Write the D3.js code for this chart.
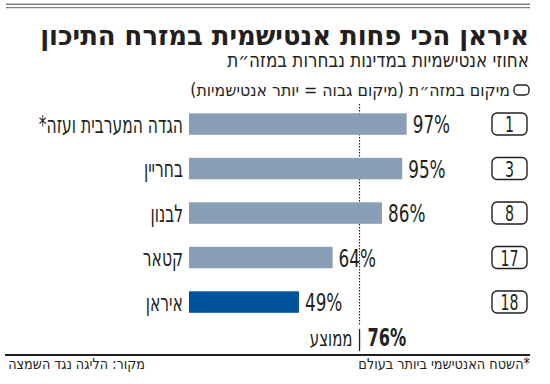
<!DOCTYPE html>
<html>
<head>
<meta charset="utf-8">
<script src="https://cdn.jsdelivr.net/npm/d3@7"></script>
<style>
  body { margin: 0; background: #fff; }
  text { font-family: 'DejaVu Sans Condensed', 'DejaVu Sans', sans-serif; fill: #231f20; }
  text.he { direction: rtl; }
</style>
</head>
<body>
<svg id="chart" width="550" height="384"></svg>
<script>
// data
var countries = ["הגדה המערבית ועזה*", "בחריין", "לבנון", "קטאר", "איראן"];
var shares = [97, 95, 86, 64, 49];
var ranks = [1, 3, 8, 17, 18];
var average = 76;
var highlighted = "איראן";

var title = "איראן הכי פחות אנטישמית במזרח התיכון";
var subtitle = "אחוזי אנטישמיות במדינות נבחרות במזה״ת";
var legendText = "מיקום במזה״ת (מיקום גבוה = יותר אנטישמיות)";
var averageLabel = "ממוצע";
var footnote = "*השטח האנטישמי ביותר בעולם";
var source = "מקור: הליגה נגד השמצה";

var rows = countries.map(function(c, i) {
  return { name: c, value: shares[i], rank: ranks[i] };
});

var svg = d3.select("#chart");

// text drawn at 0,0 and placed with a transform so it can be narrowed
// without textLength (which breaks the bidi order in chrome)
function label(parent, px, py, s, anchor, rtl) {
  var t = parent.append("text")
    .attr("text-anchor", anchor)
    .attr("transform", "translate(" + px + "," + py + ")")
    .text(s);
  if (rtl) t.attr("class", "he");
  t.node().__pos = [px, py];
  return t;
}
function scaleX(sel, k) {
  sel.each(function() {
    var p = this.__pos;
    d3.select(this).attr("transform", "translate(" + p[0] + "," + p[1] + ") scale(" + k + ",1)");
  });
}
function fit(sel, w) {
  sel.each(function() {
    var k = w / this.getBBox().width;
    d3.select(this).call(scaleX, k);
  });
}

var x = d3.scaleLinear().domain([0, 100]).range([189, 413.4]);
var y = d3.scaleBand().domain(countries).range([101.8, 324.3])
  .paddingInner(0.517).paddingOuter(0.2585);

// top rules
svg.append("line").attr("x1", 6).attr("x2", 530).attr("y1", 4.2).attr("y2", 4.2)
  .attr("stroke", "#808080").attr("stroke-width", 1.6);
svg.append("line").attr("x1", 6).attr("x2", 530).attr("y1", 7.6).attr("y2", 7.6)
  .attr("stroke", "#808080").attr("stroke-width", 1.2);

// headings (rtl: anchor "start" is the right edge)
label(svg, 529, 45, title, "start", true)
  .style("font-size", "27px").style("font-weight", "bold").call(fit, 489);
label(svg, 529, 67, subtitle, "start", true)
  .style("font-size", "20px").call(fit, 302);

// legend
svg.append("rect").attr("x", 514).attr("y", 85).attr("width", 15).attr("height", 10)
  .attr("rx", 4).attr("fill", "none").attr("stroke", "#231f20").attr("stroke-width", 1.4);
label(svg, 510, 96, legendText, "start", true)
  .style("font-size", "17px").call(fit, 320);

// average dotted line
svg.append("line")
  .attr("x1", x(average)).attr("x2", x(average))
  .attr("y1", 104).attr("y2", 326)
  .attr("stroke", "#231f20").attr("stroke-width", 1.1)
  .attr("stroke-dasharray", "1.5,1.5");

// bars
svg.append("g").selectAll("rect").data(rows).join("rect")
  .attr("x", x(0))
  .attr("y", function(d) { return y(d.name); })
  .attr("width", function(d) { return x(d.value) - x(0); })
  .attr("height", y.bandwidth())
  .attr("fill", function(d) { return d.name === highlighted ? "#00529c" : "#889fb6"; });

// value labels
var valG = svg.append("g");
rows.forEach(function(d) {
  label(valG, x(d.value) + 6, y(d.name) + y.bandwidth() / 2 + 9, d.value + "%", "start", false)
    .style("font-size", "24px").call(scaleX, 0.78);
});

// country labels
var nameG = svg.append("g");
rows.forEach(function(d) {
  label(nameG, x(0) - 6, y(d.name) + y.bandwidth() / 2 + 8.5, d.name, "start", true)
    .style("font-size", "24px").call(scaleX, 0.72);
});

// rank boxes
var ranksG = svg.append("g").selectAll("g").data(rows).join("g")
  .attr("transform", function(d) { return "translate(509.5," + (y(d.name) + y.bandwidth() / 2) + ")"; });
ranksG.append("rect").attr("x", -17.5).attr("y", -11).attr("width", 35).attr("height", 22)
  .attr("rx", 5).attr("fill", "none").attr("stroke", "#231f20").attr("stroke-width", 1.4);
ranksG.each(function(d) {
  label(d3.select(this), 0, 8, d.rank, "middle", false)
    .style("font-size", "21px").call(scaleX, 0.75);
});

// average row
svg.append("line").attr("x1", x(average)).attr("x2", x(average))
  .attr("y1", 329).attr("y2", 351)
  .attr("stroke", "#231f20").attr("stroke-width", 1.3);
label(svg, x(average) - 7, 346, averageLabel, "start", true)
  .style("font-size", "22px").call(scaleX, 0.76);
label(svg, x(average) + 8, 346, average + "%", "start", false)
  .style("font-size", "25px").style("font-weight", "bold").call(scaleX, 0.72);

// footer
svg.append("line").attr("x1", 5).attr("x2", 530).attr("y1", 355).attr("y2", 355)
  .attr("stroke", "#231f20").attr("stroke-width", 2);
label(svg, 530, 369, footnote, "start", true)
  .style("font-size", "15px").call(fit, 172);
label(svg, 145, 369, source, "start", true)
  .style("font-size", "15px").call(fit, 137);
</script>
</body>
</html>
